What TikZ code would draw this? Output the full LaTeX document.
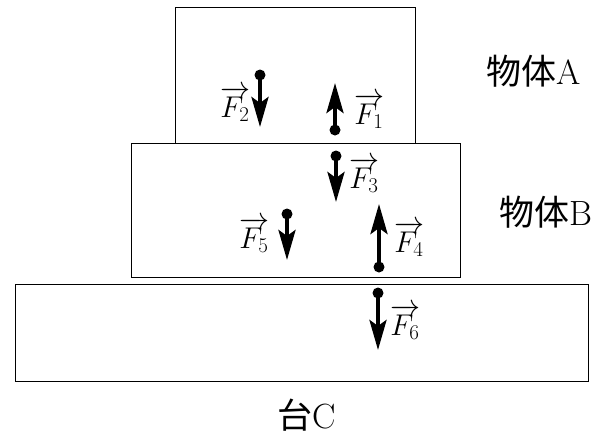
\RequirePackage{fix-cm}
\documentclass[tikz,border=0pt]{standalone}
\usepackage{fontspec}
\newfontfamily\cjk{Noto Sans CJK JP}
\usetikzlibrary{arrows.meta, positioning}

\begin{document}
\begin{tikzpicture}[
  x=1pt, y=-1pt,
  body/.style={rectangle, draw, line width=1.2pt, anchor=north west, inner sep=0pt},
  dot/.style={circle, fill, inner sep=0pt, minimum size=11pt},
  force/.style={-{Stealth[length=30pt, width=17pt, inset=6pt]}, line width=4pt},
  flabel/.style={inner sep=0pt, font=\fontsize{30}{34}\selectfont},
  bodyname/.style={font=\fontsize{35}{40}\selectfont}
]
\useasboundingbox (0,0) rectangle (598,440);

% BODIES
\node[body, minimum width=240pt, minimum height=136pt] (bodyA) at (175,7) {};
\node[body, minimum width=329pt, minimum height=134pt] (bodyB) at (131,143) {};
\node[body, minimum width=573pt, minimum height=97pt] (standC) at (15,284) {};

% NAMES
\node[bodyname] (nameA) at (534,71) {{\cjk 物体}A};
\node[bodyname] (nameB) at (546,212) {{\cjk 物体}B};
\node[bodyname] (nameC) at (307,415) {{\cjk 台}C};

% FORCES
\node[dot] (d1) at (335,130) {};
\coordinate (t1) at (335,83);
\node[dot] (d2) at (260,75) {};
\coordinate (t2) at (260,127);
\node[dot] (d3) at (336,156) {};
\coordinate (t3) at (336,202);
\node[dot] (d4) at (379,267) {};
\coordinate (t4) at (379,204);
\node[dot] (d5) at (287,214) {};
\coordinate (t5) at (287,260);
\node[dot] (d6) at (378,293) {};
\coordinate (t6) at (378,350);

\draw[force] (d1.center) -- (t1);
\draw[force] (d2.center) -- (t2);
\draw[force] (d3.center) -- (t3);
\draw[force] (d4.center) -- (t4);
\draw[force] (d5.center) -- (t5);
\draw[force] (d6.center) -- (t6);

% LABELS
\node[flabel] (f1) at (369,111) {$\overrightarrow{F_1}$};
\node[flabel] (f2) at (235,104) {$\overrightarrow{F_2}$};
\node[flabel] (f3) at (364,175) {$\overrightarrow{F_3}$};
\node[flabel] (f4) at (409,239) {$\overrightarrow{F_4}$};
\node[flabel] (f5) at (254,235) {$\overrightarrow{F_5}$};
\node[flabel] (f6) at (405,322) {$\overrightarrow{F_6}$};

\end{tikzpicture}
\end{document}
